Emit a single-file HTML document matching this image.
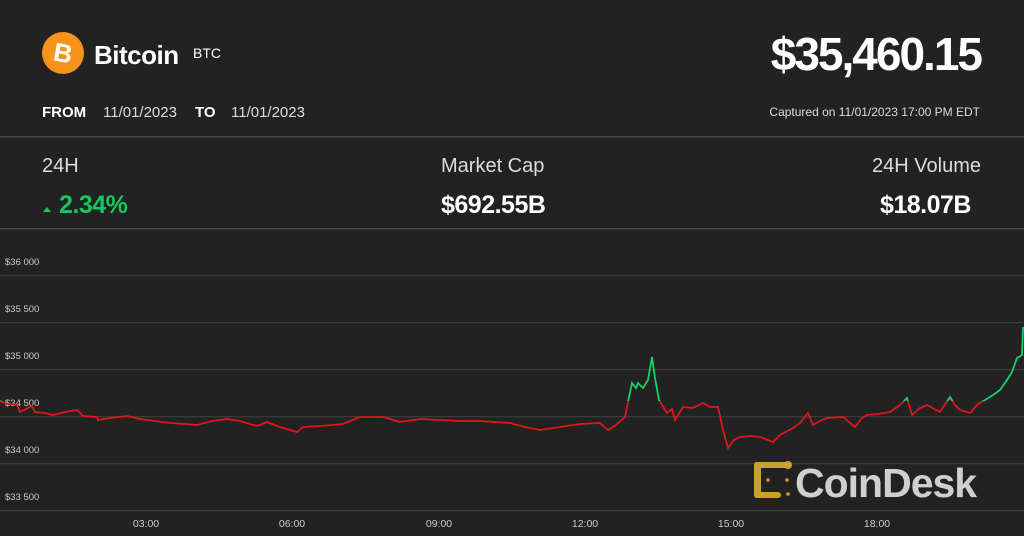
<!DOCTYPE html>
<html><head><meta charset="utf-8"><style>
html,body{margin:0;padding:0;background:#222;}
svg{display:block;font-family:"Liberation Sans",sans-serif;}
</style></head><body>
<svg width="1024" height="536" viewBox="0 0 1024 536" xmlns="http://www.w3.org/2000/svg">
<rect width="1024" height="536" fill="#222"/>
<circle cx="63" cy="53" r="21" fill="#f7931a"/>
<text x="63" y="62" font-size="26" font-weight="bold" fill="#fff" text-anchor="middle" transform="rotate(10 63 53)">B</text>
<text x="94" y="64" font-size="26" font-weight="bold" fill="#fff" letter-spacing="-0.5">Bitcoin</text>
<text x="193" y="58" font-size="14" fill="#fff">BTC</text>
<text x="981" y="70" font-size="46" font-weight="bold" fill="#fff" text-anchor="end" letter-spacing="-2">$35,460.15</text>
<text x="42" y="117" font-size="15" font-weight="bold" fill="#fff">FROM</text>
<text x="103" y="117" font-size="15" fill="#ddd">11/01/2023</text>
<text x="195" y="117" font-size="15" font-weight="bold" fill="#fff">TO</text>
<text x="231" y="117" font-size="15" fill="#ddd">11/01/2023</text>
<text x="980" y="116" font-size="12" fill="#ddd" text-anchor="end">Captured on 11/01/2023 17:00 PM EDT</text>
<rect x="0" y="136" width="1024" height="1.5" fill="#4a4a4a"/>
<text x="42" y="172" font-size="20" fill="#ddd">24H</text>
<path d="M43 212 l4 -5 l4 5 z" fill="#16c75e"/>
<text x="59" y="213" font-size="25" font-weight="bold" fill="#16c75e" letter-spacing="-0.5">2.34%</text>
<text x="441" y="172" font-size="20" fill="#ddd">Market Cap</text>
<text x="441" y="213" font-size="25" font-weight="bold" fill="#fff" letter-spacing="-0.5">$692.55B</text>
<text x="981" y="172" font-size="20" fill="#ddd" text-anchor="end">24H Volume</text>
<text x="971" y="213" font-size="25" font-weight="bold" fill="#fff" text-anchor="end" letter-spacing="-0.5">$18.07B</text>
<rect x="0" y="228" width="1024" height="1.5" fill="#4a4a4a"/>
<g fill="#3a3a3a">
<rect x="0" y="275" width="1024" height="1.3"/>
<rect x="0" y="322" width="1024" height="1.3"/>
<rect x="0" y="369" width="1024" height="1.3"/>
<rect x="0" y="416" width="1024" height="1.3"/>
<rect x="0" y="463" width="1024" height="1.3"/>
<rect x="0" y="510" width="1024" height="1.3"/>
</g>
<g font-size="9.5" fill="#ccc">
<text x="5" y="265">$36 000</text>
<text x="5" y="312">$35 500</text>
<text x="5" y="359">$35 000</text>
<text x="5" y="406">$34 500</text>
<text x="5" y="453">$34 000</text>
<text x="5" y="500">$33 500</text>
</g>
<g font-size="10.5" fill="#ccc" text-anchor="middle">
<text x="146" y="527">03:00</text>
<text x="292" y="527">06:00</text>
<text x="439" y="527">09:00</text>
<text x="585" y="527">12:00</text>
<text x="731" y="527">15:00</text>
<text x="877" y="527">18:00</text>
</g>
<defs>
<clipPath id="top"><rect x="0" y="0" width="1024" height="401"/></clipPath>
<clipPath id="bot"><rect x="0" y="401" width="1024" height="140"/></clipPath>
<path id="ln" d="M0 401 L8 404 L17 405 L20 412 L26 409 L32 406 L35 412 L45 413 L53 415 L65 412 L77 410 L83 416 L97 417 L98 420 L110 418 L127 416 L140 419 L155 421 L170 423 L185 424 L197 425 L212 421 L227 419 L240 421 L257 426 L267 422 L280 427 L290 430 L297 432 L303 427 L320 426 L343 424 L360 417 L383 417 L400 422 L420 419 L440 420 L460 421 L480 421 L495 422 L510 423 L525 427 L540 430 L560 427 L580 424 L600 423 L608 430 L616 425 L625 417 L628 402 L632 383 L636 388 L638 383 L643 388 L648 380 L652 357 L655 378 L659 400 L667 413 L672 409 L675 420 L683 407 L693 408 L703 403 L710 407 L718 407 L723 430 L728 448 L734 440 L740 437 L750 436 L760 437 L773 442 L780 435 L793 428 L800 423 L808 413 L813 425 L820 421 L827 418 L843 417 L855 427 L862 418 L867 415 L878 414 L890 412 L900 405 L907 398 L912 415 L920 408 L927 405 L940 412 L950 397 L955 405 L960 410 L970 413 L978 404 L985 400 L993 395 L1000 390 L1007 380 L1012 372 L1017 358 L1022 355 L1023 327"/>
</defs>
<use href="#ln" fill="none" stroke="#e0161b" stroke-width="1.8" clip-path="url(#bot)"/>
<use href="#ln" fill="none" stroke="#18d06a" stroke-width="1.8" clip-path="url(#top)"/>
<g fill="#c9a227">
<rect x="754" y="462" width="7" height="36" rx="3"/>
<rect x="754" y="462" width="37" height="6" rx="3"/>
<rect x="754" y="492" width="27" height="6" rx="3"/>
<circle cx="788" cy="465" r="4"/>
<circle cx="768" cy="480" r="1.8"/>
<circle cx="787" cy="480" r="1.8"/>
<circle cx="788" cy="494" r="1.8"/>
</g>
<text x="795" y="497" font-size="41" font-weight="bold" fill="#cfcfcf" letter-spacing="-1">CoinDesk</text>
</svg>
</body></html>
